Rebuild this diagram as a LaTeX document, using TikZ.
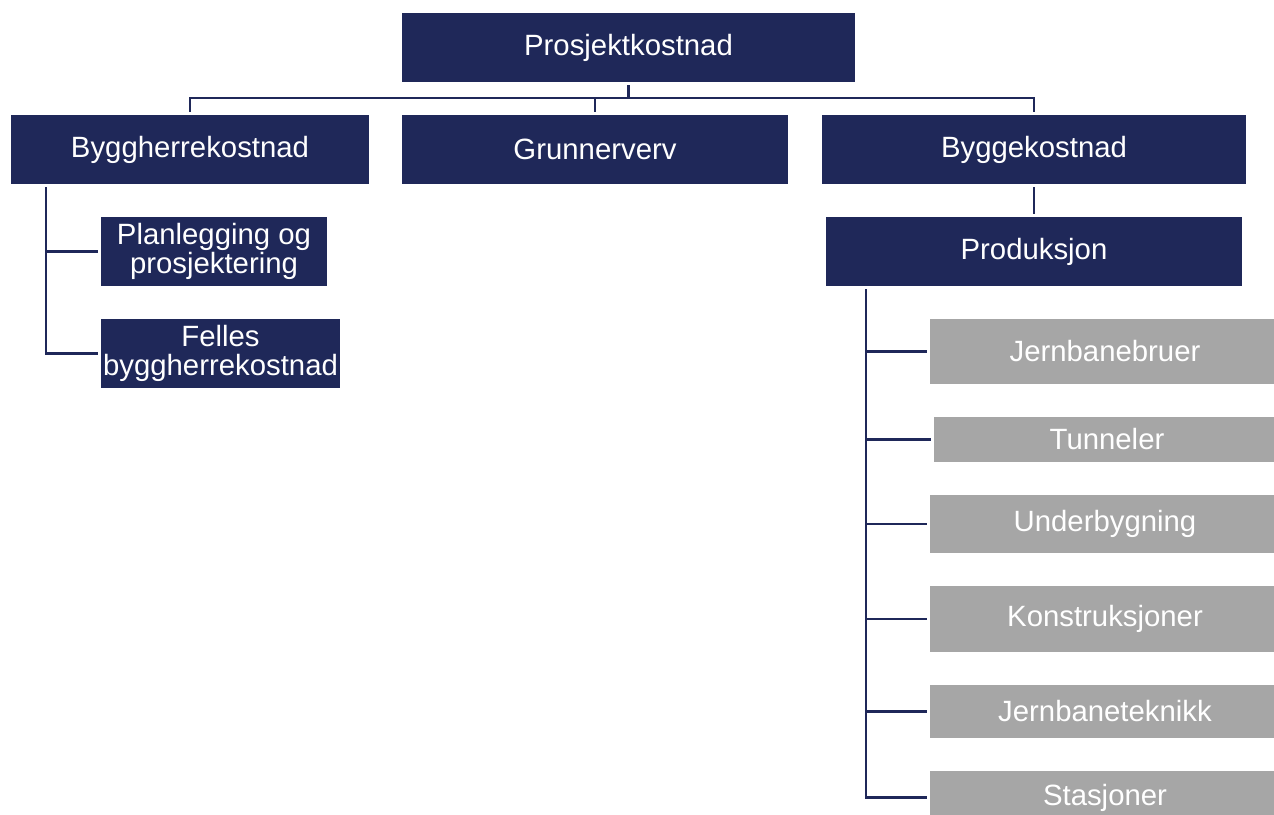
\documentclass[tikz,border=0pt]{standalone}
\usepackage{fontspec}
\setmainfont{Liberation Sans}
\usetikzlibrary{positioning,calc}
\definecolor{navy}{HTML}{1F2859}
\definecolor{greybox}{HTML}{A6A6A6}
\begin{document}
\begin{tikzpicture}
[x=0.75pt,y=-0.75pt,
 box/.style={fill=navy,text=white,inner sep=0pt,outer sep=2.25pt,
   minimum height=51.75pt,align=center,font=\fontsize{22}{21.75}\selectfont},
 sub/.style={box,fill=greybox},
 link/.style={draw=navy,line width=2pt}]
\useasboundingbox (0,0) rectangle (1274,814);
\node[box,minimum width=339.75pt](a) at (628.5,47.5){Prosjektkostnad};
\node[box,minimum width=289.5pt, below=20.25pt of a, xshift=-25.125pt](grv){Grunnerverv};
\node[box,minimum width=268.5pt, left=20.25pt of grv](byh){Byggherrekostnad};
\node[box,minimum width=318pt, right=21pt of grv](byk){Byggekostnad};
\node[box,minimum width=169.5pt, below=20.25pt of byh, xshift=18pt](plan){Planlegging og\\prosjektering};
\node[box,minimum width=179.25pt, below=20.25pt of plan, xshift=4.875pt](fel){Felles\\byggherrekostnad};
\node[box,minimum width=312pt, below=20.25pt of byk](prod){Produksjon};
\node[sub,minimum width=262.5pt,minimum height=48.75pt, below=20.25pt of prod, xshift=53.25pt](bru){Jernbanebruer};
\node[sub,minimum width=259.5pt,minimum height=33.75pt, below=20.25pt of bru, xshift=1.5pt](tun){Tunneler};
\node[sub,minimum width=262.5pt,minimum height=43.5pt, below=20.25pt of tun, xshift=-1.5pt](und){Underbygning};
\node[sub,minimum width=262.5pt,minimum height=49.5pt, below=20.25pt of und](kon){Konstruksjoner};
\node[sub,minimum width=262.5pt,minimum height=39.75pt, below=20.25pt of kon](jbt){Jernbaneteknikk};
\node[sub,minimum width=262.5pt,minimum height=39.75pt, below=20.25pt of jbt](sta){Stasjoner};
% top level
\draw[link] (a.south) -- ++(0,13) -| (byh.north);
\draw[link] (a.south) -- ++(0,13) -| (grv.north);
\draw[link] (a.south) -- ++(0,13) -| (byk.north);
\draw[link] (byk) -- (prod);
% branches
\foreach \n in {plan,fel}
  \draw[link] ($(byh.south west)+(38,0)$) |- (\n.west);
\foreach \n in {bru,tun,und,kon,jbt,sta}
  \draw[link] ($(prod.south west)+(43,0)$) |- (\n.west);
\end{tikzpicture}
\end{document}
